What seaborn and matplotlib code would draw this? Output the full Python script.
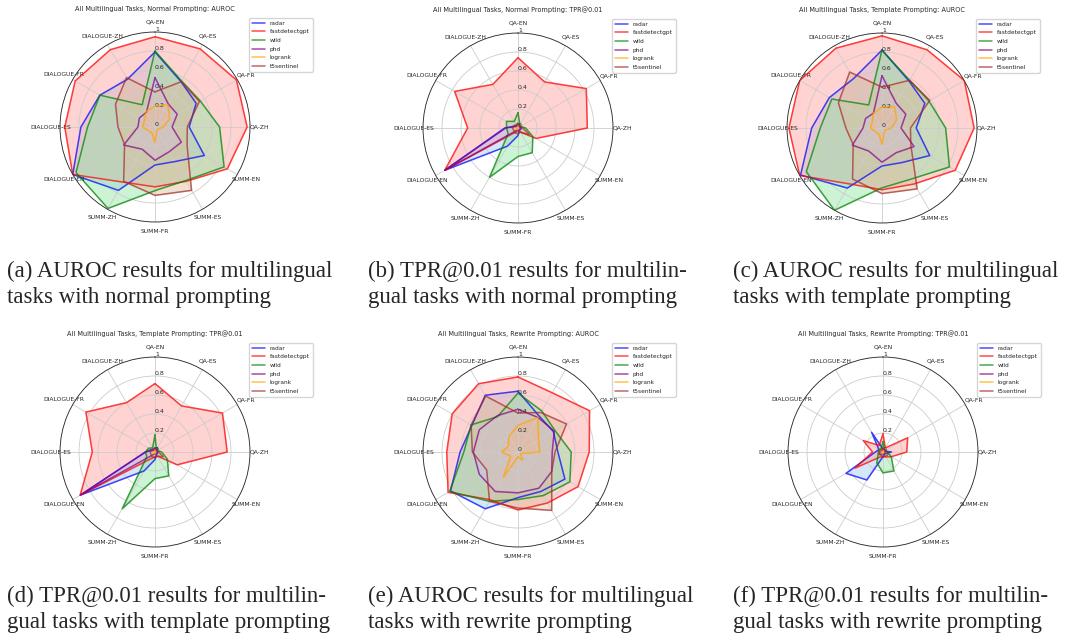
import numpy as np
import matplotlib
matplotlib.use("Agg")
import matplotlib.pyplot as plt
import seaborn as sns

categories = ["QA-EN", "QA-ES", "QA-FR", "QA-ZH", "SUMM-EN", "SUMM-ES", "SUMM-FR",
              "SUMM-ZH", "DIALOGUE-EN", "DIALOGUE-ES", "DIALOGUE-FR", "DIALOGUE-ZH"]
methods = ["radar", "fastdetectgpt", "wild", "phd", "logrank", "t5sentinel"]
method_colors = ["blue", "red", "green", "purple", "orange", "brown"]
r_ticks = [0, 0.2, 0.4, 0.6, 0.8, 1]
r_tick_labels = ["0", "0.2", "0.4", "0.6", "0.8", "1"]

# (a) normal prompting, AUROC
radar_normal_auroc = [0.79, 0.55, 0.50, 0.36, 0.60, 0.42, 0.40, 0.77, 1.00, 0.78, 0.67, 0.58]
fast_normal_auroc = [0.95, 0.95, 0.99, 0.97, 0.88, 0.66, 0.63, 0.67, 1.00, 0.95, 0.97, 0.94]
wild_normal_auroc = [0.80, 0.56, 0.55, 0.68, 0.84, 0.65, 0.67, 0.99, 0.96, 0.71, 0.67, 0.27]
phd_normal_auroc = [0.52, 0.28, 0.27, 0.18, 0.32, 0.30, 0.35, 0.27, 0.38, 0.18, 0.19, 0.18]
logrank_normal_auroc = [0.22, 0.27, 0.18, 0.09, 0.04, 0.04, 0.16, 0.07, 0.08, 0.13, 0.13, 0.19]
t5_normal_auroc = [0.37, 0.55, 0.54, 0.34, 0.39, 0.77, 0.72, 0.66, 0.37, 0.39, 0.48, 0.60]

# (b) normal prompting, TPR@0.01
radar_normal_tpr = [0.04, 0.03, 0.02, 0.04, 0.03, 0.03, 0.08, 0.22, 0.89, 0.14, 0.04, 0.03]
fast_normal_tpr = [0.74, 0.56, 0.83, 0.73, 0.22, 0.05, 0.03, 0.05, 0.89, 0.53, 0.77, 0.53]
wild_normal_tpr = [0.16, 0.04, 0.03, 0.08, 0.18, 0.30, 0.30, 0.60, 0.12, 0.12, 0.14, 0.08]
phd_normal_tpr = [0.02, 0.02, 0.02, 0.02, 0.02, 0.02, 0.02, 0.03, 0.89, 0.13, 0.03, 0.02]
logrank_normal_tpr = [0.02, 0.01, 0.01, 0.01, 0.01, 0.01, 0.01, 0.02, 0.02, 0.02, 0.01, 0.01]
t5_normal_tpr = [0.05, 0.03, 0.03, 0.05, 0.14, 0.05, 0.06, 0.06, 0.05, 0.06, 0.05, 0.04]

# (c) template prompting, AUROC
radar_template_auroc = [0.82, 0.57, 0.52, 0.36, 0.58, 0.42, 0.40, 0.73, 0.99, 0.74, 0.64, 0.60]
fast_template_auroc = [0.97, 0.95, 1.00, 0.97, 0.89, 0.68, 0.65, 0.68, 1.00, 0.98, 1.00, 0.97]
wild_template_auroc = [0.82, 0.58, 0.57, 0.67, 0.82, 0.62, 0.63, 1.00, 0.92, 0.65, 0.61, 0.28]
phd_template_auroc = [0.55, 0.30, 0.29, 0.20, 0.39, 0.30, 0.36, 0.28, 0.36, 0.20, 0.20, 0.18]
logrank_template_auroc = [0.22, 0.26, 0.18, 0.10, 0.04, 0.05, 0.17, 0.07, 0.08, 0.12, 0.12, 0.18]
t5_template_auroc = [0.43, 0.58, 0.58, 0.30, 0.35, 0.74, 0.69, 0.62, 0.35, 0.38, 0.53, 0.68]

# (d) template prompting, TPR@0.01
radar_template_tpr = [0.04, 0.05, 0.02, 0.03, 0.03, 0.03, 0.08, 0.23, 0.91, 0.10, 0.05, 0.03]
fast_template_tpr = [0.72, 0.56, 0.82, 0.76, 0.27, 0.05, 0.05, 0.08, 0.91, 0.66, 0.84, 0.60]
wild_template_tpr = [0.18, 0.03, 0.03, 0.07, 0.15, 0.29, 0.28, 0.69, 0.10, 0.10, 0.08, 0.05]
phd_template_tpr = [0.02, 0.02, 0.02, 0.02, 0.02, 0.02, 0.02, 0.03, 0.90, 0.10, 0.03, 0.02]
logrank_template_tpr = [0.02, 0.01, 0.01, 0.01, 0.01, 0.01, 0.01, 0.02, 0.02, 0.02, 0.01, 0.01]
t5_template_tpr = [0.04, 0.03, 0.03, 0.04, 0.10, 0.05, 0.06, 0.06, 0.05, 0.05, 0.04, 0.04]

# (e) rewrite prompting, AUROC
radar_rewrite_auroc = [0.64, 0.44, 0.43, 0.42, 0.57, 0.48, 0.48, 0.69, 0.82, 0.61, 0.56, 0.69]
fast_rewrite_auroc = [0.79, 0.72, 0.87, 0.75, 0.73, 0.62, 0.61, 0.58, 0.85, 0.75, 0.80, 0.83]
wild_rewrite_auroc = [0.62, 0.50, 0.45, 0.56, 0.63, 0.53, 0.50, 0.60, 0.83, 0.57, 0.57, 0.43]
phd_rewrite_auroc = [0.45, 0.42, 0.44, 0.36, 0.41, 0.44, 0.43, 0.48, 0.47, 0.47, 0.47, 0.44]
logrank_rewrite_auroc = [0.28, 0.42, 0.25, 0.23, 0.03, 0.10, 0.05, 0.31, 0.09, 0.17, 0.12, 0.19]
t5_rewrite_auroc = [0.41, 0.48, 0.59, 0.39, 0.41, 0.71, 0.59, 0.60, 0.38, 0.48, 0.57, 0.68]

# (f) rewrite prompting, TPR@0.01
radar_rewrite_tpr = [0.03, 0.03, 0.02, 0.09, 0.03, 0.03, 0.05, 0.34, 0.45, 0.08, 0.05, 0.24]
fast_rewrite_tpr = [0.19, 0.05, 0.30, 0.25, 0.10, 0.06, 0.05, 0.06, 0.34, 0.11, 0.24, 0.08]
wild_rewrite_tpr = [0.11, 0.03, 0.03, 0.05, 0.10, 0.23, 0.22, 0.13, 0.06, 0.05, 0.05, 0.04]
phd_rewrite_tpr = [0.03, 0.02, 0.02, 0.02, 0.02, 0.02, 0.02, 0.03, 0.04, 0.03, 0.02, 0.02]
logrank_rewrite_tpr = [0.02, 0.01, 0.01, 0.01, 0.01, 0.01, 0.01, 0.02, 0.02, 0.02, 0.01, 0.01]
t5_rewrite_tpr = [0.04, 0.03, 0.03, 0.04, 0.06, 0.05, 0.05, 0.04, 0.05, 0.04, 0.04, 0.03]

titles = [
    "All Multilingual Tasks, Normal Prompting: AUROC",
    "All Multilingual Tasks, Normal Prompting: TPR@0.01",
    "All Multilingual Tasks, Template Prompting: AUROC",
    "All Multilingual Tasks, Template Prompting: TPR@0.01",
    "All Multilingual Tasks, Rewrite Prompting: AUROC",
    "All Multilingual Tasks, Rewrite Prompting: TPR@0.01",
]
captions = [
    ("(a) AUROC results for multilingual", "tasks with normal prompting"),
    ("(b) TPR@0.01 results for multilin-", "gual tasks with normal prompting"),
    ("(c) AUROC results for multilingual", "tasks with template prompting"),
    ("(d) TPR@0.01 results for multilin-", "gual tasks with template prompting"),
    ("(e) AUROC results for multilingual", "tasks with rewrite prompting"),
    ("(f) TPR@0.01 results for multilin-", "gual tasks with rewrite prompting"),
]
panel_series = [
    [radar_normal_auroc, fast_normal_auroc, wild_normal_auroc, phd_normal_auroc, logrank_normal_auroc, t5_normal_auroc],
    [radar_normal_tpr, fast_normal_tpr, wild_normal_tpr, phd_normal_tpr, logrank_normal_tpr, t5_normal_tpr],
    [radar_template_auroc, fast_template_auroc, wild_template_auroc, phd_template_auroc, logrank_template_auroc, t5_template_auroc],
    [radar_template_tpr, fast_template_tpr, wild_template_tpr, phd_template_tpr, logrank_template_tpr, t5_template_tpr],
    [radar_rewrite_auroc, fast_rewrite_auroc, wild_rewrite_auroc, phd_rewrite_auroc, logrank_rewrite_auroc, t5_rewrite_auroc],
    [radar_rewrite_tpr, fast_rewrite_tpr, wild_rewrite_tpr, phd_rewrite_tpr, logrank_rewrite_tpr, t5_rewrite_tpr],
]

sns.set_style("whitegrid", {"axes.edgecolor": "0.15", "grid.color": "0.8"})
plt.rcParams["font.family"] = ["DejaVu Sans"]

# light fills (pastel versions of the line colours)
pastel = sns.color_palette("pastel")
fill_colors = [pastel[0], pastel[3], pastel[2], pastel[4], pastel[1], pastel[5]]

W, H = 1070, 634
R = 95
centers = [(155, 127), (518, 128), (882, 128), (155, 452), (518, 452), (883, 452)]
caption_x = [7, 368, 733, 7, 368, 733]
caption_y = [277, 277, 277, 602, 602, 602]
line_gap = 26


def radar_panel(ax, title, series):
    angles = np.linspace(0, 2 * np.pi, len(categories), endpoint=False).tolist()
    closed = angles + angles[:1]
    ax.set_theta_offset(np.pi / 2)
    ax.set_theta_direction(-1)
    ax.set_axisbelow("line")
    for name, color, fcol, vals in zip(methods, method_colors, fill_colors, series):
        v = list(vals) + list(vals[:1])
        ax.plot(closed, v, color=color, linewidth=1.1, alpha=0.7, label=name)
        ax.fill(closed, v, color=fcol, alpha=0.45)
    ax.set_xticks(angles)
    ax.set_xticklabels(categories, fontsize=4.3)
    ax.tick_params(axis="x", pad=-3.5)
    ax.set_ylim(0, 1)
    ax.set_yticks(r_ticks)
    ax.set_yticklabels(r_tick_labels, fontsize=4.5)
    ax.set_rlabel_position(0)
    ax.grid(linewidth=0.6)
    ax.spines["polar"].set_linewidth(0.6)
    ax.set_title(title, fontsize=4.7, pad=6)
    ax.legend(loc="upper right", bbox_to_anchor=(1.345, 1.09), fontsize=4.2,
              frameon=True, handlelength=2.2, borderpad=0.5, labelspacing=0.6)


fig = plt.figure(figsize=(W / 100, H / 100), dpi=100)
for (cx, cy), title, series in zip(centers, titles, panel_series):
    ax = fig.add_axes([(cx - R) / W, (H - cy - R) / H, 2 * R / W, 2 * R / H], projection="polar")
    radar_panel(ax, title, series)

for x, y, (line1, line2) in zip(caption_x, caption_y, captions):
    for k, line in enumerate((line1, line2)):
        fig.text(x / W, 1 - (y + k * line_gap) / H, line, fontsize=16.5,
                 family="Liberation Serif", va="baseline", ha="left")

fig.savefig("out.png", dpi=100)
